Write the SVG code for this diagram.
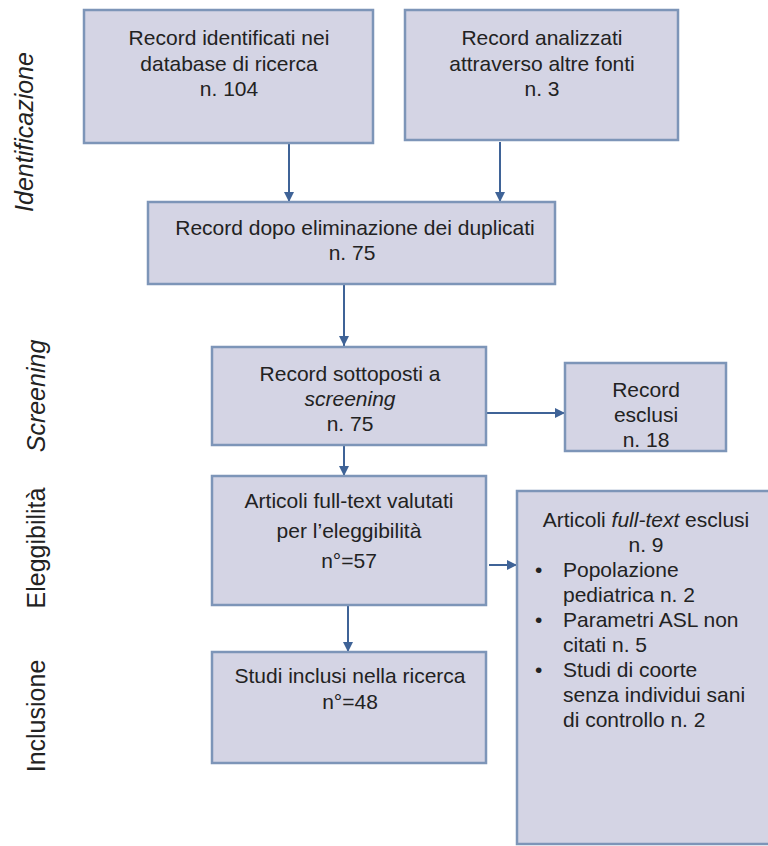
<svg xmlns="http://www.w3.org/2000/svg" width="768" height="846" viewBox="0 0 768 846">
<style>
.box{fill:#d4d4e4;stroke:#7d95b8;stroke-width:2.5}
.t{font-family:"Liberation Sans",Arial,sans-serif;font-size:21px;fill:#222;text-anchor:middle}
.tl{font-family:"Liberation Sans",Arial,sans-serif;font-size:21px;fill:#222}
.side{font-family:"Liberation Sans",Arial,sans-serif;font-size:25px;fill:#222;text-anchor:middle}
.c{stroke:#3f6397;stroke-width:2;fill:none;marker-end:url(#ah)}
</style>
<defs>
<marker id="ah" viewBox="0 0 10 10" refX="10" refY="5" markerWidth="5" markerHeight="5" orient="auto" markerUnits="strokeWidth">
<path d="M0,0 L10,5 L0,10 z" fill="#3f6397"/>
</marker>
</defs>
<rect width="768" height="846" fill="#fff"/>
<g id="side-labels">
<text class="side" font-style="italic" transform="translate(33,132) rotate(-90)">Identificazione</text>
<text class="side" font-style="italic" transform="translate(45,396) rotate(-90)">Screening</text>
<text class="side" transform="translate(45,548) rotate(-90)">Eleggibilità</text>
<text class="side" transform="translate(45,716) rotate(-90)">Inclusione</text>
</g>
<g id="connectors">
<line class="c" x1="289" y1="144" x2="289" y2="202"/>
<line class="c" x1="500" y1="142" x2="500" y2="202"/>
<line class="c" x1="344" y1="284" x2="344" y2="346"/>
<line class="c" x1="486" y1="413" x2="565" y2="413"/>
<line class="c" x1="344" y1="445" x2="344" y2="476"/>
<line class="c" x1="489" y1="565" x2="517" y2="565"/>
<line class="c" x1="348" y1="605" x2="348" y2="652"/>
</g>
<g id="n1">
<rect class="box" x="84" y="10" width="289" height="133"/>
<text class="t" x="229" y="45">Record identificati nei</text>
<text class="t" x="229" y="71">database di ricerca</text>
<text class="t" x="229" y="96">n. 104</text>
</g>
<g id="n2">
<rect class="box" x="405" y="10" width="273" height="130"/>
<text class="t" x="542" y="45">Record analizzati</text>
<text class="t" x="542" y="71">attraverso altre fonti</text>
<text class="t" x="542" y="96">n. 3</text>
</g>
<g id="n3">
<rect class="box" x="148" y="202" width="407" height="82"/>
<text class="t" x="355" y="235">Record dopo eliminazione dei duplicati</text>
<text class="t" x="352" y="260">n. 75</text>
</g>
<g id="n4">
<rect class="box" x="212" y="347" width="274" height="98"/>
<text class="t" x="350" y="381">Record sottoposti a</text>
<text class="t" x="350" y="406" font-style="italic">screening</text>
<text class="t" x="350" y="431">n. 75</text>
</g>
<g id="n5">
<rect class="box" x="565" y="363" width="161" height="88"/>
<text class="t" x="646" y="397">Record</text>
<text class="t" x="646" y="422">esclusi</text>
<text class="t" x="646" y="447">n. 18</text>
</g>
<g id="n6">
<rect class="box" x="212" y="476" width="274" height="129"/>
<text class="t" x="349" y="508">Articoli full-text valutati</text>
<text class="t" x="349" y="538">per l’eleggibilità</text>
<text class="t" x="349" y="568">n°=57</text>
</g>
<g id="n7">
<rect class="box" x="517" y="491" width="270" height="353"/>
<text class="t" x="646" y="527">Articoli <tspan font-style="italic">full-text</tspan> esclusi</text>
<text class="t" x="646" y="552">n. 9</text>
<text class="tl" x="535" y="577">•</text>
<text class="tl" x="563" y="577">Popolazione</text>
<text class="tl" x="563" y="602">pediatrica n. 2</text>
<text class="tl" x="535" y="627">•</text>
<text class="tl" x="563" y="627">Parametri ASL non</text>
<text class="tl" x="563" y="652">citati n. 5</text>
<text class="tl" x="535" y="677">•</text>
<text class="tl" x="563" y="677">Studi di coorte</text>
<text class="tl" x="563" y="702">senza individui sani</text>
<text class="tl" x="563" y="727">di controllo n. 2</text>
</g>
<g id="n8">
<rect class="box" x="212" y="652" width="274" height="111"/>
<text class="t" x="350" y="683">Studi inclusi nella ricerca</text>
<text class="t" x="350" y="709">n°=48</text>
</g>
</svg>
